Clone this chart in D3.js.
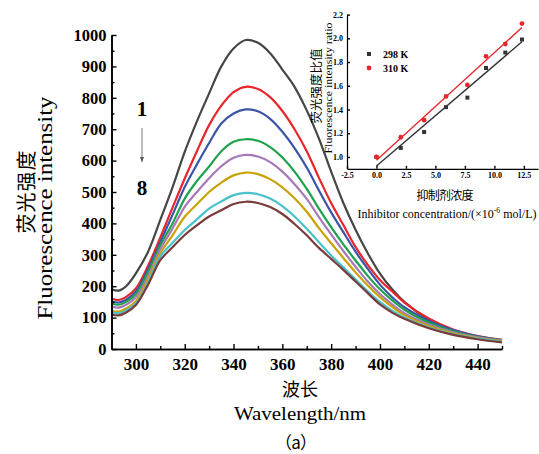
<!DOCTYPE html>
<html><head><meta charset="utf-8">
<script src="https://cdn.jsdelivr.net/npm/d3@7/dist/d3.min.js"></script>
<style>
body{margin:0;background:#fff;}
svg{display:block;}
text{font-family:"Liberation Serif","Times New Roman",serif;}
.cn{font-family:"Noto Sans CJK SC",sans-serif;}
</style></head>
<body>
<script>
// ---------- data ----------
const wavelengths = [290,293,296,300,305,310,315,320,325,330,335,340,345,350,355,360,365,370,375,380,385,390,395,400,405,410,420,430,440,450];
const curve1 = [190,186,200,241,310,411,515,628,725,814,900,957,984,975,942,890,835,760,670,565,465,380,305,240,190,150,93,56,35,23];
const curve2 = [161,156,166,193,265,355,450,543,630,713,775,818,835,828,802,758,700,630,545,465,395,325,268,220,183,148,97,62,41,29];
const curve3 = [152,148,157,183,255,340,427,516,588,656,718,750,763,757,733,692,640,578,505,435,372,310,255,205,165,133,90,60,40,28];
const curve4 = [145,141,150,175,245,330,400,479,535,581,630,660,668,663,643,610,565,510,447,388,333,282,233,190,155,125,84,56,38,27];
const curve5 = [135,132,141,165,232,318,383,453,500,544,582,609,618,613,595,565,525,478,420,365,312,262,215,175,142,114,78,53,37,26];
const curve6 = [122,119,129,152,222,305,362,421,461,500,530,553,562,557,541,515,480,437,385,337,290,244,202,165,134,108,73,50,35,25];
const curve7 = [117,114,123,145,212,295,338,379,413,447,470,490,497,493,479,455,422,383,340,298,260,222,184,150,122,100,68,47,33,23];
const curve8 = [110,107,116,140,205,283,324,363,394,422,442,462,469,465,452,430,398,362,322,287,252,215,178,142,116,96,66,45,31,21];
const curves = [curve1,curve2,curve3,curve4,curve5,curve6,curve7,curve8];
const curveColors = ["#464646","#e8262b","#3b55a6","#1ea34c","#a779b8","#c9a206","#47c2cc","#7b3b3b"];

const xTicks = [300,320,340,360,380,400,420,440];
const xMinor = [310,330,350,370,390,410,430,450];
const yTicks = [0,100,200,300,400,500,600,700,800,900,1000];
const yMinor = [50,150,250,350,450,550,650,750,850,950];

// inset data
const conc = [0,2.06,4.04,5.9,7.71,9.29,10.93,12.34];
const ratio298 = [1.0,1.076,1.21,1.42,1.50,1.75,1.88,1.99];
const ratio310 = [1.0,1.166,1.31,1.51,1.607,1.848,1.952,2.124];
const insetSeries = ["298 K","310 K"];
const insetColors = ["#333333","#e8262b"];
const insetXTicks = [-2.5,0,2.5,5,7.5,10,12.5];
const insetYTicks = [1.0,1.2,1.4,1.6,1.8,2.0,2.2];

// ---------- svg ----------
const W=539,H=454;
const svg=d3.select("body").append("svg").attr("width",W).attr("height",H);

const x=d3.scaleLinear().domain([290,450]).range([111.5,502]);
const y=d3.scaleLinear().domain([0,1000]).range([349,35]);

const line=d3.line().x((d,i)=>x(wavelengths[i])).y(d=>y(d)).curve(d3.curveCatmullRom.alpha(0.5));
svg.append("g").selectAll("path").data(curves).join("path")
  .attr("d",d=>line(d)).attr("fill","none")
  .attr("stroke",(d,i)=>curveColors[i]).attr("stroke-width",2.2);

function styleAxis(g,fs){
  g.selectAll(".domain").attr("stroke","#000").attr("stroke-width",1.6);
  g.selectAll(".tick line").attr("stroke","#000").attr("stroke-width",1.4);
  g.selectAll("text").attr("font-family","Liberation Serif, serif").attr("font-weight","bold").attr("font-size",fs).attr("fill","#000");
}
// main axes
const gx=svg.append("g").attr("transform","translate(0,349)")
  .call(d3.axisBottom(x).tickValues(xTicks).tickFormat(d3.format("d")).tickSizeInner(-5).tickSizeOuter(0).tickPadding(9));
styleAxis(gx,17);
const gxm=svg.append("g").attr("transform","translate(0,349)")
  .call(d3.axisBottom(x).tickValues(xMinor).tickFormat("").tickSizeInner(-3).tickSizeOuter(0));
styleAxis(gxm,17);
const gy=svg.append("g").attr("transform","translate(111.5,0)")
  .call(d3.axisLeft(y).tickValues(yTicks).tickFormat(d3.format("d")).tickSizeInner(-5).tickSizeOuter(0).tickPadding(5));
styleAxis(gy,16.5);
const gym=svg.append("g").attr("transform","translate(111.5,0)")
  .call(d3.axisLeft(y).tickValues(yMinor).tickFormat("").tickSizeInner(-3).tickSizeOuter(0));
styleAxis(gym,16);

// axis titles
svg.append("text").attr("class","cn").attr("x",300).attr("y",396).attr("text-anchor","middle")
  .attr("font-size",18).text("波长");
svg.append("text").attr("x",300).attr("y",420).attr("text-anchor","middle")
  .attr("font-size",18).attr("textLength",132).attr("lengthAdjust","spacingAndGlyphs").text("Wavelength/nm");
svg.append("text").attr("class","cn").attr("x",296).attr("y",449).attr("text-anchor","middle")
  .attr("font-size",17).attr("textLength",42).attr("lengthAdjust","spacing").text("（a）");
svg.append("text").attr("class","cn").attr("transform","translate(34,192) rotate(-90)").attr("text-anchor","middle")
  .attr("font-size",20).attr("textLength",83).attr("lengthAdjust","spacing").text("荧光强度");
svg.append("text").attr("transform","translate(52,208) rotate(-90)").attr("text-anchor","middle")
  .attr("font-size",20).attr("textLength",223).attr("lengthAdjust","spacingAndGlyphs").text("Fluorescence  intensity");

// 1 -> 8 annotation
svg.append("text").attr("x",142).attr("y",116).attr("text-anchor","middle").attr("font-weight","bold").attr("font-size",21).text("1");
svg.append("text").attr("x",142).attr("y",195).attr("text-anchor","middle").attr("font-weight","bold").attr("font-size",21).text("8");
svg.append("defs").append("marker").attr("id","ah").attr("viewBox","0 0 10 10").attr("refX",10).attr("refY",5)
  .attr("markerWidth",5).attr("markerHeight",7).attr("orient","auto")
  .append("path").attr("d","M0,1 L10,5 L0,9 Z").attr("fill","#555");
svg.append("line").attr("x1",142).attr("y1",128).attr("x2",142).attr("y2",162)
  .attr("stroke","#777").attr("stroke-width",1).attr("marker-end","url(#ah)");

// ---------- inset ----------
const ix=d3.scaleLinear().domain([-2.5,13.7]).range([347,538]);
const iy=d3.scaleLinear().domain([0.9,2.2]).range([168.8,14.6]);

function fit(xs,ys){
  const mx=d3.mean(xs),my=d3.mean(ys);
  let sxy=0,sxx=0;
  xs.forEach((v,i)=>{sxy+=(v-mx)*(ys[i]-my);sxx+=(v-mx)*(v-mx);});
  const b=sxy/sxx; return {b:b,a:my-b*mx};
}
const insetData=[ratio298,ratio310];
insetData.forEach((ys,k)=>{
  const f=fit(conc,ys);
  const x0=d3.min(conc),x1=d3.max(conc);
  svg.append("line").attr("x1",ix(x0)).attr("y1",iy(f.a+f.b*x0)).attr("x2",ix(x1)).attr("y2",iy(f.a+f.b*x1))
    .attr("stroke",insetColors[k]).attr("stroke-width",1.4);
});
// points
svg.append("g").selectAll("rect").data(ratio298).join("rect")
  .attr("x",(d,i)=>ix(conc[i])-2).attr("y",d=>iy(d)-2).attr("width",4).attr("height",4).attr("fill",insetColors[0]);
svg.append("g").selectAll("circle").data(ratio310).join("circle")
  .attr("cx",(d,i)=>ix(conc[i])).attr("cy",d=>iy(d)).attr("r",2.4).attr("fill",insetColors[1]);

const igx=svg.append("g").attr("transform","translate(0,168.8)")
  .call(d3.axisBottom(ix).tickValues(insetXTicks).tickFormat(d3.format(".1f")).tickSizeInner(-3).tickSizeOuter(0).tickPadding(4));
styleAxis(igx,8);
igx.selectAll(".domain").attr("stroke-width",1.2);
igx.selectAll("text").text(d=>d3.format(".1f")(d).replace("−","-"));
const igy=svg.append("g").attr("transform","translate(347,0)")
  .call(d3.axisLeft(iy).tickValues(insetYTicks).tickFormat(d3.format(".1f")).tickSizeInner(-3).tickSizeOuter(0).tickPadding(4));
styleAxis(igy,8);
igy.selectAll(".domain").attr("stroke-width",1.2);

// inset legend
insetSeries.forEach((s,k)=>{
  const yy=54+k*14;
  if(k===0) svg.append("rect").attr("x",367).attr("y",yy-2).attr("width",4).attr("height",4).attr("fill",insetColors[0]);
  else svg.append("circle").attr("cx",369).attr("cy",yy).attr("r",2.4).attr("fill",insetColors[1]);
  svg.append("text").attr("x",383).attr("y",yy+3.5).attr("font-weight","bold").attr("font-size",10).text(s);
});
// inset titles
svg.append("text").attr("class","cn").attr("transform","translate(321,86) rotate(-90)").attr("text-anchor","middle")
  .attr("font-size",12.5).attr("textLength",75).attr("lengthAdjust","spacing").text("荧光强度比值");
svg.append("text").attr("transform","translate(332,88) rotate(-90)").attr("text-anchor","middle")
  .attr("font-size",11).attr("textLength",131).attr("lengthAdjust","spacingAndGlyphs").text("Fluorescence  intensity  ratio");
svg.append("text").attr("class","cn").attr("x",445).attr("y",200).attr("text-anchor","middle")
  .attr("font-size",12).attr("textLength",57).attr("lengthAdjust","spacing").text("抑制剂浓度");
const t=svg.append("text").attr("x",447).attr("y",218).attr("text-anchor","middle").attr("font-size",12.5)
  .attr("textLength",179).attr("lengthAdjust","spacingAndGlyphs");
t.append("tspan").text("Inhibitor  concentration/(×10");
t.append("tspan").attr("dy",-5).attr("font-size",8).text("-6");
t.append("tspan").attr("dy",5).text(" mol/L)");
</script>
</body></html>
